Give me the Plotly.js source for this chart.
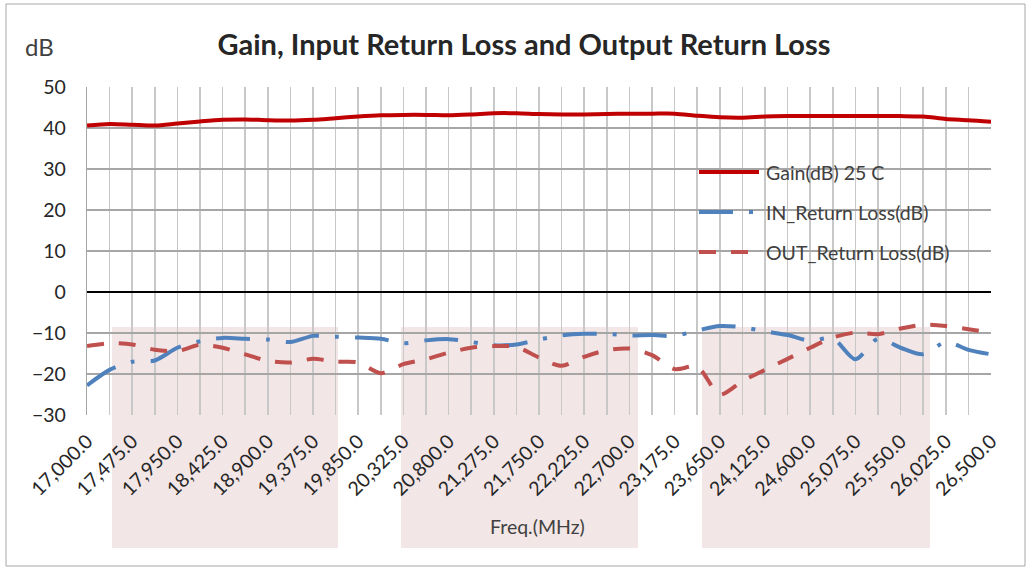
<!DOCTYPE html>
<html>
<head>
<meta charset="utf-8">
<script src="https://cdn.plot.ly/plotly-3.0.1.min.js"></script>
<style>
  html, body { margin: 0; padding: 0; background: #ffffff; }
  #chart { width: 1028px; height: 568px; }
</style>
</head>
<body>
<div id="chart"></div>
<script>
// ---- Data ----
const freqMHz = [
  17000, 17237.5, 17475, 17712.5, 17950, 18187.5, 18425, 18662.5, 18900, 19137.5,
  19375, 19612.5, 19850, 20087.5, 20325, 20562.5, 20800, 21037.5, 21275, 21512.5,
  21750, 21987.5, 22225, 22462.5, 22700, 22937.5, 23175, 23412.5, 23650, 23887.5,
  24125, 24362.5, 24600, 24837.5, 25075, 25312.5, 25550, 25787.5, 26025, 26262.5,
  26500
];
const gainDb = [
  40.6, 41.0, 40.8, 40.6, 41.1, 41.6, 42.0, 42.1, 41.9, 41.8,
  42.0, 42.4, 42.8, 43.1, 43.2, 43.2, 43.1, 43.3, 43.6, 43.6,
  43.4, 43.3, 43.3, 43.4, 43.5, 43.5, 43.5, 43.0, 42.6, 42.5,
  42.8, 42.9, 42.9, 42.9, 42.9, 42.9, 42.9, 42.8, 42.2, 41.9,
  41.5
];
const inReturnLossDb = [
  -22.8, -19.0, -17.0, -16.7, -13.6, -12.0, -11.2, -11.4, -11.6, -12.2,
  -10.7, -10.9, -11.1, -11.4, -12.5, -11.8, -11.5, -12.2, -13.0, -12.8,
  -11.6, -10.6, -10.2, -10.2, -10.6, -10.5, -10.7, -9.4, -8.3, -8.6,
  -9.6, -10.5, -11.9, -11.3, -16.4, -11.4, -13.6, -15.2, -12.2, -14.1,
  -15.2
];
const outReturnLossDb = [
  -13.2, -12.5, -12.8, -14.1, -14.4, -12.9, -13.6, -15.2, -16.8, -17.2,
  -16.3, -17.0, -17.2, -19.8, -17.6, -16.4, -14.8, -13.6, -13.2, -13.4,
  -16.0, -18.0, -15.8, -14.2, -13.8, -15.4, -18.8, -18.2, -25.0, -21.7,
  -19.0, -16.3, -13.6, -11.1, -9.9, -10.3, -8.9, -8.0, -8.3, -9.1,
  -9.9
];
const tickValues = [
  17000, 17475, 17950, 18425, 18900, 19375, 19850, 20325, 20800, 21275, 21750,
  22225, 22700, 23175, 23650, 24125, 24600, 25075, 25550, 26025, 26500
];
const tickLabels = [
  "17,000.0", "17,475.0", "17,950.0", "18,425.0", "18,900.0", "19,375.0", "19,850.0",
  "20,325.0", "20,800.0", "21,275.0", "21,750.0", "22,225.0", "22,700.0", "23,175.0",
  "23,650.0", "24,125.0", "24,600.0", "25,075.0", "25,550.0", "26,025.0", "26,500.0"
];
const seriesNames = ["Gain(dB) 25 C", "IN_Return Loss(dB)", "OUT_Return Loss(dB)"];

// ---- Styling / layout ----
const W = 1028, H = 568;
const PL = 87, PR = 991, PT = 87, PB = 415;
const px = x => (x - PL) / (PR - PL);
const py = y => (PB - y) / (PB - PT);

const FONT = "Lato, 'Open Sans', 'Liberation Sans', sans-serif";
const colors = ["#C00000", "#4F81BD", "#C0504D"];
const dashes = ["solid", "34px,16px,4px,16px", "17px,15px"];

const traces = [gainDb, inReturnLossDb, outReturnLossDb].map((vals, i) => ({
  x: freqMHz, y: vals, name: seriesNames[i], type: "scatter", mode: "lines",
  line: { color: colors[i], width: 4, dash: dashes[i], shape: "spline", smoothing: 0.8 },
  showlegend: false, hoverinfo: "x+y+name"
}));

const shapes = [];
// shaded pink bands (decorative, behind plot)
[[112, 338], [401, 638], [702, 930]].forEach(b => {
  shapes.push({ type: "rect", xref: "paper", yref: "paper", layer: "below",
    x0: px(b[0]), x1: px(b[1]), y0: py(548), y1: py(327),
    fillcolor: "rgb(242,230,230)", line: { width: 0 } });
});
// outer chart border
shapes.push({ type: "rect", xref: "paper", yref: "paper", layer: "below",
  x0: px(6), x1: px(1025), y0: py(566), y1: py(4),
  fillcolor: "rgba(0,0,0,0)", line: { color: "#A6A6A6", width: 1 } });

// custom legend
const legendRows = [172, 212, 252];
const annotations = [];
legendRows.forEach((ry, i) => {
  shapes.push({ type: "line", xref: "paper", yref: "paper", layer: "above",
    x0: px(699), x1: px(759), y0: py(ry), y1: py(ry),
    line: { color: colors[i], width: 4, dash: dashes[i] } });
  annotations.push({ xref: "paper", yref: "paper", x: px(764), y: py(ry),
    xanchor: "left", yanchor: "middle", showarrow: false, text: seriesNames[i],
    font: { family: FONT, size: 19.5, color: "#404040" } });
});
annotations.push({ xref: "paper", yref: "paper", x: px(39), y: py(46),
  xanchor: "center", yanchor: "middle", showarrow: false, text: "dB",
  font: { family: FONT, size: 24, color: "#404040" } });
annotations.push({ xref: "paper", yref: "paper", x: px(537), y: py(526),
  xanchor: "center", yanchor: "middle", showarrow: false, text: "Freq.(MHz)",
  font: { family: FONT, size: 19.5, color: "#404040" } });

const layout = {
  width: W, height: H,
  margin: { l: PL, r: W - PR, t: PT, b: H - PB, pad: 0 },
  paper_bgcolor: "#ffffff",
  plot_bgcolor: "rgba(0,0,0,0)",
  showlegend: false,
  title: { text: "Gain, Input Return Loss and Output Return Loss",
    font: { family: FONT, size: 29, color: "#262626", weight: "bold" },
    xref: "container", yref: "container", x: 524 / W, y: 1 - 45 / H,
    xanchor: "center", yanchor: "middle" },
  xaxis: {
    range: [17000, 26500], tickmode: "array", tickvals: tickValues, ticktext: tickLabels,
    tickangle: -45, ticks: "", ticklabelstandoff: 10,
    tickfont: { family: FONT, size: 19.5, color: "#262626" },
    showgrid: true, gridcolor: "#C8C8C8", gridwidth: 1.5,
    minor: { tick0: 17000, dtick: 237.5, showgrid: true, gridcolor: "#C8C8C8", gridwidth: 1.5, ticks: "" },
    showline: false, zeroline: false, fixedrange: true
  },
  yaxis: {
    range: [-30, 50], dtick: 10, tick0: 0, ticks: "", ticklabelstandoff: 16,
    tickfont: { family: FONT, size: 19.5, color: "#262626" },
    showgrid: true, gridcolor: "#A6A6A6", gridwidth: 1.2,
    zeroline: true, zerolinecolor: "#000000", zerolinewidth: 1.2,
    showline: true, linecolor: "#A6A6A6", linewidth: 1.2, fixedrange: true
  },
  shapes: shapes,
  annotations: annotations
};

Plotly.newPlot("chart", traces, layout, { displayModeBar: false, staticPlot: true });
</script>
</body>
</html>
